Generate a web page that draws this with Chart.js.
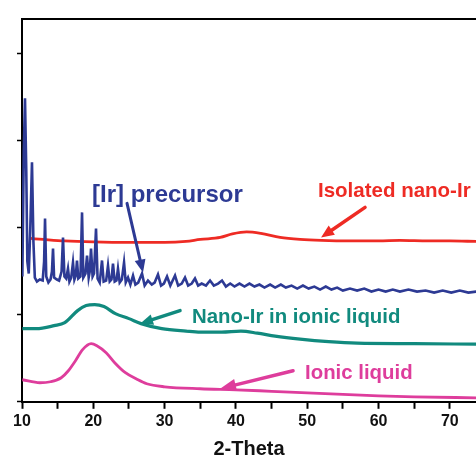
<!DOCTYPE html>
<html><head><meta charset="utf-8">
<script src="https://cdn.jsdelivr.net/npm/chart.js@4"></script>
<style>html,body{margin:0;padding:0;background:#fff}canvas{display:block}</style>
</head><body>
<canvas id="c" width="476" height="461"></canvas>
<script>
// ---- data (2-Theta in degrees, intensity in offset arbitrary units) ----
const xTickValues = [10,15,20,25,30,35,40,45,50,55,60,65,70];
const yTickValues = [0,87,174,261,348];

const precursorTheta = [10.05,10.25,10.42,10.6,10.75,10.95,11.15,11.4,11.6,11.8,12.1,12.5,12.9,13.1,13.23,13.4,13.7,14.0,14.2,14.35,14.5,14.9,15.2,15.55,15.75,15.95,16.2,16.45,16.65,16.9,17.15,17.35,17.55,17.71,17.9,18.2,18.42,18.6,18.9,19.12,19.35,19.5,19.68,19.9,20.1,20.38,20.6,20.9,21.22,21.45,21.8,22.06,22.3,22.55,22.76,23.0,23.25,23.46,23.7,24.0,24.31,24.55,24.87,25.2,25.57,25.9,26.3,26.83,27.2,27.67,28.2,28.6,29.07,29.5,29.9,30.34,30.8,31.46,31.9,32.4,32.86,33.3,33.8,34.26,34.7,35.2,35.8,36.37,36.9,37.5,38.05,38.6,39.2,39.8,40.5,41.2,41.9,42.6,43.3,44.0,44.8,45.5,46.3,47.0,47.8,48.6,49.4,50.2,51.0,51.8,52.6,53.4,54.2,55.0,56.0,57.0,58.0,59.0,60.0,61.0,62.0,63.0,64.2,65.4,66.6,67.8,69.0,70.2,71.4,72.6,73.7];
const precursorI = [125,250,303,230,140,128,170,239,160,124,120,122,121,140,183,125,119,122,130,153,124,122,121,130,164,125,123,133,120,124,139,122,126,141,123,125,189,124,128,146,124,130,153,125,128,173,123,119,141,120,121,136,120,122,138,120,121,133,119,122,139,119,124,117,126,117,119,128,116,121,117,119,127,116,118,125,116,126,116,118,124,116,118,123,116,118,116,121,116,118,121,115,118,115,118,115,118,115,117,114,117,114,117,114,116,113,116,113,115,112,115,112,114,111,113,111,113,110,112,110,112,110,112,110,111,109,111,109,111,109,110];

const isolatedTheta = [11.2,13,16,20,25,30,33,35,37.8,39.5,41.5,43.5,46.2,49,52,56,60,63,67,70,73.7];
const isolatedI = [163,162,160.5,159.5,159,159,160,162,164,167.5,169.5,168,164,162,161,160.5,160.5,161,160.5,160.5,160];

const nanoILTheta = [10.05,12,14.5,16,17.8,19,20.2,21.5,23.1,25,26.7,29.6,33,35,38,40.7,43,45.5,49,53,57,65,73.7];
const nanoILI = [73,73,76,79,91,96,97,95,88,83,78,73,70.5,69.5,69.5,70.5,68.5,65.5,62.5,60,58.5,58,57.5];

const ionicTheta = [10.05,12.5,14,15.5,16.5,17.5,18.5,19.7,20.5,21.8,23,24.5,26,27.5,30,35,40,45,50,55,60,65,73.7];
const ionicI = [22,19,20,24,31,41,52,58,56,49,39,29,23,18,15,13,12,10.5,9,7.5,6,5,4];

const seriesNames = ['[Ir] precursor','Isolated nano-Ir','Nano-Ir in ionic liquid','Ionic liquid'];

// ---- styling ----
const BLUE = '#2d3a94', RED = '#ee2b24', TEAL = '#118a7e', PINK = '#de3d9c';
const FONT = '"Liberation Sans", Arial, sans-serif';

const pts = (xs, ys) => xs.map((x, i) => ({x, y: ys[i]}));

const notes = [
  {text: seriesNames[0], color: BLUE, size: 24, x: 19.82, y: 199},
  {text: seriesNames[1], color: RED,  size: 20.5, x: 51.51, y: 204},
  {text: seriesNames[2], color: TEAL, size: 20.4, x: 33.84, y: 79},
  {text: seriesNames[3], color: PINK, size: 20.4, x: 49.69, y: 23}
];
const arrows = [
  {color: BLUE, from: [24.73, 198], to: [26.97, 129], w: 3, head: 13, hw: 11},
  {color: RED,  from: [58.11, 194], to: [51.94, 164], w: 3.5, head: 13, hw: 11},
  {color: TEAL, from: [32.16, 91],  to: [26.55, 78],  w: 3.5, head: 13, hw: 11},
  {color: PINK, from: [48.01, 31],  to: [37.77, 13],  w: 3.5, head: 16, hw: 12}
];

const annotate = {
  id: 'annotate',
  beforeDraw(chart) {
    const c = chart.ctx;
    c.save(); c.fillStyle = '#fff'; c.fillRect(0, 0, chart.width, chart.height); c.restore();
  },
  afterDatasetsDraw(chart) {
    const c = chart.ctx, sx = chart.scales.x, sy = chart.scales.y;
    c.save();
    for (const a of arrows) {
      const x1 = sx.getPixelForValue(a.from[0]), y1 = sy.getPixelForValue(a.from[1]);
      const x2 = sx.getPixelForValue(a.to[0]),   y2 = sy.getPixelForValue(a.to[1]);
      const ang = Math.atan2(y2 - y1, x2 - x1);
      const bx = x2 - a.head * Math.cos(ang), by = y2 - a.head * Math.sin(ang);
      c.strokeStyle = a.color; c.fillStyle = a.color; c.lineWidth = a.w; c.lineCap = 'round';
      c.beginPath(); c.moveTo(x1, y1); c.lineTo(bx + Math.cos(ang), by + Math.sin(ang)); c.stroke();
      c.beginPath();
      c.moveTo(x2, y2);
      c.lineTo(bx + a.hw / 2 * Math.sin(ang), by - a.hw / 2 * Math.cos(ang));
      c.lineTo(bx - a.hw / 2 * Math.sin(ang), by + a.hw / 2 * Math.cos(ang));
      c.closePath(); c.fill();
    }
    c.textBaseline = 'alphabetic'; c.textAlign = 'left';
    for (const n of notes) {
      c.font = 'bold ' + n.size + 'px ' + FONT;
      c.fillStyle = n.color;
      c.fillText(n.text, sx.getPixelForValue(n.x), sy.getPixelForValue(n.y));
    }
    c.restore();
  }
};

const keepTicks = vals => scale => { scale.ticks = vals.map(v => ({value: v})); };

new Chart(document.getElementById('c'), {
  type: 'line',
  data: {
    datasets: [
      {label: seriesNames[0], data: pts(precursorTheta, precursorI), borderColor: BLUE, borderWidth: 2.6, tension: 0, order: 0},
      {label: seriesNames[1], data: pts(isolatedTheta, isolatedI), borderColor: RED, borderWidth: 2.8, cubicInterpolationMode: 'monotone', order: 1},
      {label: seriesNames[2], data: pts(nanoILTheta, nanoILI), borderColor: TEAL, borderWidth: 3.2, cubicInterpolationMode: 'monotone', order: 2},
      {label: seriesNames[3], data: pts(ionicTheta, ionicI), borderColor: PINK, borderWidth: 2.8, cubicInterpolationMode: 'monotone', order: 3}
    ]
  },
  options: {
    responsive: false,
    animation: false,
    elements: {point: {radius: 0}},
    layout: {padding: {left: 17, top: 19, right: 0, bottom: 0}},
    plugins: {legend: {display: false}, tooltip: {enabled: false}},
    scales: {
      x: {
        type: 'linear', position: 'bottom', min: 10, max: 73.67,
        afterBuildTicks: keepTicks(xTickValues),
        border: {display: true, color: '#000', width: 2},
        grid: {display: true, drawOnChartArea: false, drawTicks: true, tickLength: 7, tickColor: '#000', tickWidth: 2},
        ticks: {
          autoSkip: false, maxRotation: 0, padding: 3, color: '#111',
          font: {family: FONT, size: 16, weight: 'bold'},
          callback: v => (v % 10 === 0 ? String(v) : '')
        },
        title: {display: true, text: '2-Theta', color: '#111', font: {family: FONT, size: 20, weight: 'bold'}, padding: {top: 3, bottom: 0}}
      },
      xTop: {
        type: 'linear', position: 'top', min: 10, max: 73.67,
        border: {display: true, color: '#000', width: 2},
        grid: {display: false, drawTicks: false},
        ticks: {display: false}
      },
      y: {
        type: 'linear', min: 0, max: 382,
        afterBuildTicks: keepTicks(yTickValues),
        border: {display: true, color: '#000', width: 2},
        grid: {display: true, drawOnChartArea: false, drawTicks: true, tickLength: 5, tickColor: '#000', tickWidth: 1.5},
        ticks: {display: false}
      }
    }
  },
  plugins: [annotate]
});
</script>
</body></html>
